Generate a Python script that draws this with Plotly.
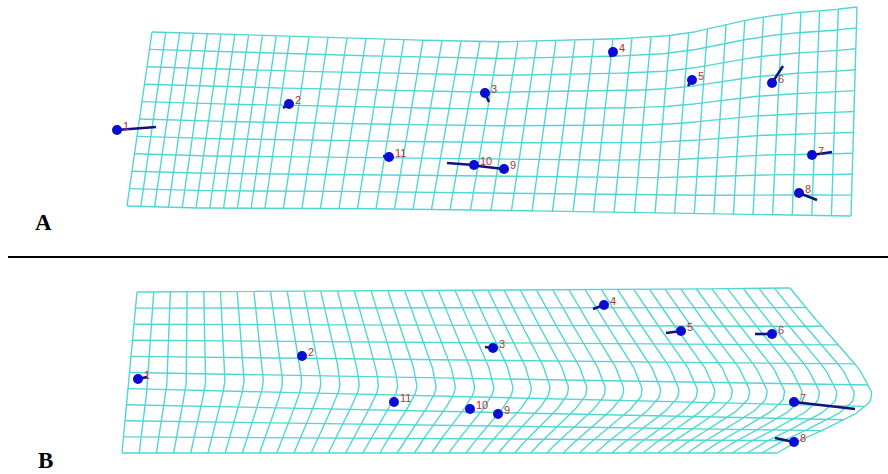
import numpy as np
import plotly.graph_objects as go

N_COLS = 40
N_ROWS = 10

# ---------------- Panel A: deformed grid outline ----------------
A_top_x = [152, 300, 490, 590, 657, 690, 723, 757, 790, 823, 857]
A_top_y = [32, 37, 42, 40, 37, 33, 25, 18, 13, 11, 7]
A_top_cols = [152, 290, 480, 670, 857]      # columns 0,10,20,30,40 along top edge
A_bot_x = [127, 180, 300, 490, 700, 851]
A_bot_y = [206, 208, 208, 210, 214, 216]
A_bot_cols = [127, 265, 450, 655, 851]
A_left_x = [152, 127]
A_left_y = [32, 206]
A_right_x = [857, 851]
A_right_y = [7, 216]

# ---------------- Panel B: deformed grid outline ----------------
B_top_x = [137, 400, 600, 790]
B_top_y = [292, 291, 290, 288]
B_top_cols = [137, 304, 472, 634, 790]
B_bot_x = [122, 400, 600, 777]
B_bot_y = [453, 453, 453, 453]
B_bot_cols = [122, 294, 466, 628, 777]
B_left_x = [137, 122]
B_left_y = [292, 453]
B_right_x = [790, 810, 837, 860, 872, 870, 857, 830, 800, 777]
B_right_y = [288, 313, 343, 370, 393, 402, 413, 427, 440, 453]

# ---------------- Landmarks ----------------
LABELS = ["1", "2", "3", "4", "5", "6", "7", "8", "9", "10", "11"]
A_lm_x = [117, 289, 485, 613, 692, 772, 812, 799, 504, 474, 389]
A_lm_y = [130, 104, 93, 52, 80, 83, 155, 193, 169, 165, 157]
A_end_x = [156, 283, 489, 610, 688, 783, 832, 817, 478, 447, 383]
A_end_y = [127, 108, 102, 57, 86, 66, 152, 200, 166, 163, 156]

B_lm_x = [138, 302, 493, 604, 681, 772, 794, 794, 498, 470, 394]
B_lm_y = [379, 356, 348, 305, 331, 334, 402, 442, 414, 409, 402]
B_end_x = [147, 300, 485, 593, 666, 755, 855, 775, 495, 468, 392]
B_end_y = [377, 357, 347, 309, 333, 334, 409, 438, 412, 407, 402]

GRID_COLOR = "#52d6d3"
STICK_COLOR = "#12127e"
DOT_COLOR = "#0b0bd2"
LABEL_COLOR = "#a8392f"


def edge_h(ex, ey, cols):
    knots = np.linspace(0, 1, len(cols))
    def f(u):
        x = np.interp(u, knots, cols)
        y = np.interp(x, ex, ey)
        return x, y
    return f


def edge_poly(px, py):
    px = np.asarray(px, float); py = np.asarray(py, float)
    seg = np.hypot(np.diff(px), np.diff(py))
    s = np.concatenate([[0], np.cumsum(seg)]) / seg.sum()
    def f(v):
        return np.interp(v, s, px), np.interp(v, s, py)
    return f


def coons(T, Bt, L, R, u, v):
    tx, ty = T(u); bx, by = Bt(u)
    lx, ly = L(v); rx, ry = R(v)
    p00 = T(np.array([0.0])); p10 = T(np.array([1.0]))
    p01 = Bt(np.array([0.0])); p11 = Bt(np.array([1.0]))
    x = ((1 - v) * tx + v * bx + (1 - u) * lx + u * rx
         - ((1 - u) * (1 - v) * p00[0] + u * (1 - v) * p10[0]
            + (1 - u) * v * p01[0] + u * v * p11[0]))
    y = ((1 - v) * ty + v * by + (1 - u) * ly + u * ry
         - ((1 - u) * (1 - v) * p00[1] + u * (1 - v) * p10[1]
            + (1 - u) * v * p01[1] + u * v * p11[1]))
    return x, y


def grid_lines(top, bot, left, right):
    T = edge_h(*top); Bt = edge_h(*bot)
    L = edge_poly(*left); R = edge_poly(*right)
    xs, ys = [], []
    vv = np.linspace(0, 1, 80)
    for i in range(N_COLS + 1):
        u = np.full_like(vv, i / N_COLS)
        x, y = coons(T, Bt, L, R, u, vv)
        xs += list(x) + [None]; ys += list(y) + [None]
    uu = np.linspace(0, 1, 300)
    for j in range(N_ROWS + 1):
        v = np.full_like(uu, j / N_ROWS)
        x, y = coons(T, Bt, L, R, uu, v)
        xs += list(x) + [None]; ys += list(y) + [None]
    return xs, ys


fig = go.Figure()

panels = [
    ((A_top_x, A_top_y, A_top_cols), (A_bot_x, A_bot_y, A_bot_cols),
     (A_left_x, A_left_y), (A_right_x, A_right_y),
     A_lm_x, A_lm_y, A_end_x, A_end_y),
    ((B_top_x, B_top_y, B_top_cols), (B_bot_x, B_bot_y, B_bot_cols),
     (B_left_x, B_left_y), (B_right_x, B_right_y),
     B_lm_x, B_lm_y, B_end_x, B_end_y),
]

annotations = []
for top, bot, left, right, lx, ly, ex, ey in panels:
    gx, gy = grid_lines(top, bot, left, right)
    fig.add_trace(go.Scatter(x=gx, y=gy, mode="lines",
                             line=dict(color=GRID_COLOR, width=1.4),
                             hoverinfo="skip", showlegend=False))
    sx, sy = [], []
    for a, b, c, d in zip(lx, ly, ex, ey):
        sx += [a, c, None]; sy += [b, d, None]
    fig.add_trace(go.Scatter(x=sx, y=sy, mode="lines",
                             line=dict(color=STICK_COLOR, width=2.6),
                             hoverinfo="skip", showlegend=False))
    fig.add_trace(go.Scatter(x=lx, y=ly, mode="markers",
                             marker=dict(color=DOT_COLOR, size=10),
                             showlegend=False))
    for a, b, t in zip(lx, ly, LABELS):
        annotations.append(dict(x=a, y=b, text=t, showarrow=False,
                                xanchor="left", yanchor="middle",
                                xshift=4, yshift=4,
                                font=dict(family="Arial, Liberation Sans", size=11,
                                          color=LABEL_COLOR)))

annotations.append(dict(x=43, y=222, text="<b>A</b>", showarrow=False,
                        xanchor="center", yanchor="middle",
                        font=dict(family="Liberation Serif, Times New Roman", size=23,
                                  color="black")))
annotations.append(dict(x=45, y=460, text="<b>B</b>", showarrow=False,
                        xanchor="center", yanchor="middle",
                        font=dict(family="Liberation Serif, Times New Roman", size=23,
                                  color="black")))

fig.update_layout(
    width=888, height=474,
    margin=dict(l=0, r=0, t=0, b=0),
    paper_bgcolor="white", plot_bgcolor="white",
    xaxis=dict(range=[0, 888], visible=False, fixedrange=True),
    yaxis=dict(range=[474, 0], visible=False, fixedrange=True),
    annotations=annotations,
    shapes=[dict(type="line", xref="x", yref="y", x0=8, x1=888, y0=257, y1=257,
                 line=dict(color="black", width=2.2))],
)

fig.write_html("out.html")
